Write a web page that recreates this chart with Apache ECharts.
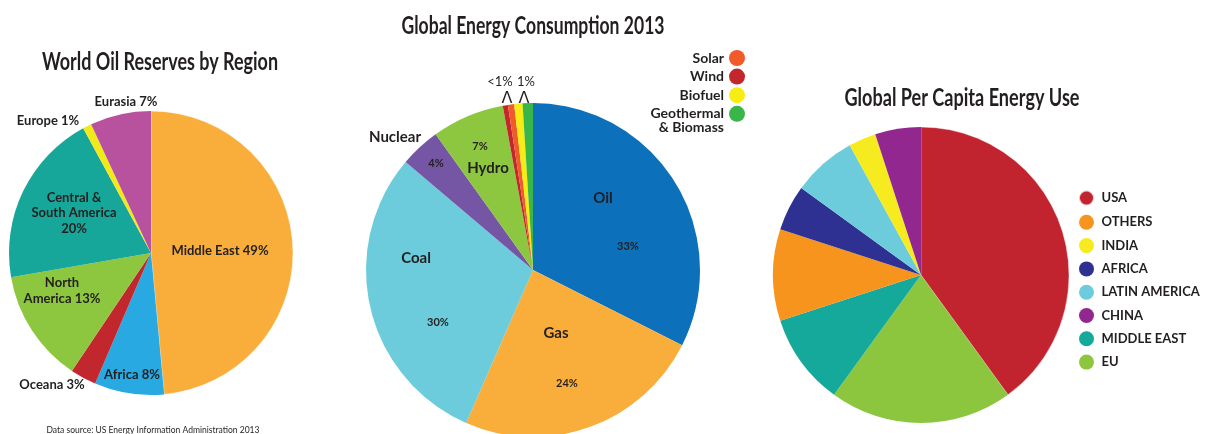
<!DOCTYPE html>
<html><head><meta charset="utf-8">
<script src="https://cdn.jsdelivr.net/npm/echarts@6/dist/echarts.min.js"></script>
<style>html,body{margin:0;padding:0;background:#fff}#c{width:1209px;height:434px}</style>
</head><body><div id="c"></div>
<script>
// ---- data ----
const oilRegions = ['Middle East','Africa','Oceana','North America','Central & South America','Europe','Eurasia'];
const oilShares = [49, 8, 3, 13, 20, 1, 7];
const oilLabels = ['Middle East 49%','Africa 8%','Oceana 3%','North\nAmerica 13%','Central &\nSouth America\n20%','Europe 1%','Eurasia 7%'];

const energySources = ['Oil','Gas','Coal','Nuclear','Hydro','Wind','Solar','Biofuel','Geothermal & Biomass'];
const energyShares = [32.4, 24.1, 29.6, 3.9, 7.0, 0.5, 0.6, 0.8, 1.0];
const energyNameLabels = ['Oil','Gas','Coal','Nuclear','Hydro','<1%','','1%',''];
const energyPctLabels = ['33%','24%','30%','4%','7%','Λ','','Λ',''];
const energyLegend = ['Solar','Wind','Biofuel','Geothermal & Biomass'];

const capitaRegions = ['USA','EU','MIDDLE EAST','OTHERS','AFRICA','LATIN AMERICA','INDIA','CHINA'];
const capitaShares = [40, 20, 10, 10, 5, 7, 3, 5];
const capitaLegend = ['USA','OTHERS','INDIA','AFRICA','LATIN AMERICA','CHINA','MIDDLE EAST','EU'];

const titles = ['World Oil Reserves by Region','Global Energy Consumption 2013','Global Per Capita Energy Use'];
const sourceNote = 'Data source: US Energy Information Administration 2013';

// ---- styles / layout ----
const DARK = '#231F20';
const LABEL_FONT = 'Lato, "Open Sans", sans-serif';
const oilColors = ['#F9AE3B','#29A9E1','#C1272D','#8DC63F','#17A79A','#F2E91A','#B8519E'];
const energyColors = ['#0C70BA','#F9AE3B','#6DCCDC','#7456A5','#8DC63F','#C1272D','#F15A29','#F7EC13','#39B54A'];
const capitaColors = ['#C1232F','#8CC63F','#14A99B','#F7941E','#2E3192','#6DCCDC','#F5EB1F','#92278F'];
// label displacement (px) from the pie centre
const oilShift = [[69,-2],[-19,122],[-99,132],[-89,38],[-77,-40],[-103,-132],[-25,-151]];
const energyNameShift = [[70,-72],[23,63],[-117,-12],[-138,-133],[-45,-102],[-33,-188],[0,0],[-7,-188],[0,0]];
const energyPctShift = [[95,-24],[34,113],[-95,52],[-97,-107],[-53,-124],[-26,-171],[0,0],[-9,-171],[0,0]];
// title placement: centre x, centre y, width
const titleBoxes = [[160, 62, 236], [533, 26.5, 263], [962, 98.5, 235]];

function hPad(s) { return [0, s[0] < 0 ? -2*s[0] : 0, 0, s[0] > 0 ? 2*s[0] : 0]; }
function richSp(shifts) {
  const r = {};
  shifts.forEach((s, i) => { const h = Math.abs(2*s[1]); r['sp' + i] = { lineHeight: h, height: h, fontSize: 1 }; });
  return r;
}
function shifted(text, s, i) {
  if (!text) return '';
  if (s[1] > 0) return '{sp' + i + '| }\n' + text;
  if (s[1] < 0) return text + '\n{sp' + i + '| }';
  return text;
}

const measureCtx = document.createElement('canvas').getContext('2d');
function scaleFor(text, font, width) { measureCtx.font = font; return width / measureCtx.measureText(text).width; }

const chart = echarts.init(document.getElementById('c'));

const TITLE_SIZE = 24;
const graphics = titles.map((t, i) => ({
  type: 'text', x: titleBoxes[i][0], y: titleBoxes[i][1], silent: true,
  scaleX: scaleFor(t, 'bold ' + TITLE_SIZE + 'px Lato', titleBoxes[i][2]),
  style: { text: t, fontFamily: 'Lato', fontWeight: 'bold', fontSize: TITLE_SIZE, fill: DARK,
    textAlign: 'center', textVerticalAlign: 'middle' }
}));
graphics.push({
  type: 'text', x: 153, y: 430, silent: true,
  scaleX: scaleFor(sourceNote, '10px Lato', 213),
  style: { text: sourceNote, fontFamily: 'Lato', fontSize: 10, fill: DARK, textAlign: 'center', textVerticalAlign: 'middle' }
});

function pieBase(center, r) {
  return { type: 'pie', center, radius: [0, r], startAngle: 90, clockwise: true,
    avoidLabelOverlap: false, labelLayout: { hideOverlap: false, moveOverlap: null },
    silent: true, emphasis: { disabled: true }, labelLine: { show: false } };
}

const option = {
  animation: false,
  graphic: graphics,
  legend: [
    {
      data: energyLegend,
      orient: 'vertical', align: 'right', right: 459, top: 45, padding: 5,
      itemWidth: 16, itemHeight: 16, itemGap: 2.6, icon: 'circle', selectedMode: false,
      formatter: n => n === 'Geothermal & Biomass' ? 'Geothermal\n{b|& Biomass}' : n,
      textStyle: { fontFamily: LABEL_FONT, fontWeight: 'bold', fontSize: 14, lineHeight: 14, color: DARK,
        rich: { b: { fontFamily: LABEL_FONT, fontWeight: 'bold', fontSize: 14, color: DARK, lineHeight: 1, height: 14, verticalAlign: 'top' } } }
    },
    {
      data: capitaLegend,
      orient: 'vertical', align: 'left', left: 1073, top: 184.5, padding: 5,
      itemWidth: 20, itemHeight: 15, itemGap: 8.3, icon: 'circle', selectedMode: false,
      textStyle: { fontFamily: LABEL_FONT, fontWeight: 'bold', fontSize: 13, lineHeight: 15, color: DARK }
    }
  ],
  series: [
    Object.assign(pieBase([151, 253], 142), {
      data: oilRegions.map((n, i) => ({ name: n, value: oilShares[i],
        itemStyle: i === 0 ? { color: oilColors[i], borderColor: 'rgba(255,255,255,0.8)', borderWidth: 0.6 } : { color: oilColors[i] },
        label: { padding: hPad(oilShift[i]) } })),
      label: { show: true, position: 'center', formatter: p => shifted(oilLabels[p.dataIndex], oilShift[p.dataIndex], p.dataIndex),
        fontFamily: LABEL_FONT, fontWeight: 'bold', fontSize: 13, lineHeight: 15.5, color: DARK, rich: richSp(oilShift) }
    }),
    Object.assign(pieBase([533, 270], 167), {
      data: energySources.map((n, i) => ({ name: n, value: energyShares[i], itemStyle: { color: energyColors[i] },
        label: { padding: hPad(energyNameShift[i]), fontSize: i >= 5 ? 13 : 15, fontWeight: i >= 5 ? 'normal' : 'bold' } })),
      label: { show: true, position: 'center', formatter: p => shifted(energyNameLabels[p.dataIndex], energyNameShift[p.dataIndex], p.dataIndex),
        fontFamily: LABEL_FONT, fontWeight: 'bold', fontSize: 15, lineHeight: 16, color: DARK, rich: richSp(energyNameShift) }
    }),
    Object.assign(pieBase([533, 270], 167), {
      data: energySources.map((n, i) => ({ name: n, value: energyShares[i], itemStyle: { color: 'rgba(0,0,0,0)' },
        label: i >= 5
          ? { padding: hPad(energyPctShift[i]), fontSize: 16, lineHeight: 16, fontWeight: 'normal', fontFamily: '"DejaVu Sans", sans-serif' }
          : { padding: hPad(energyPctShift[i]) } })),
      label: { show: true, position: 'center', formatter: p => shifted(energyPctLabels[p.dataIndex], energyPctShift[p.dataIndex], p.dataIndex),
        fontFamily: LABEL_FONT, fontWeight: 'bold', fontSize: 11, lineHeight: 13, color: DARK, rich: richSp(energyPctShift) }
    }),
    Object.assign(pieBase([921, 275], 148), {
      data: capitaRegions.map((n, i) => ({ name: n, value: capitaShares[i],
        itemStyle: i === 0 ? { color: capitaColors[i], borderColor: 'rgba(255,255,255,0.7)', borderWidth: 0.6 } : { color: capitaColors[i] } })),
      label: { show: false }
    })
  ]
};
chart.setOption(option);
</script></body></html>
